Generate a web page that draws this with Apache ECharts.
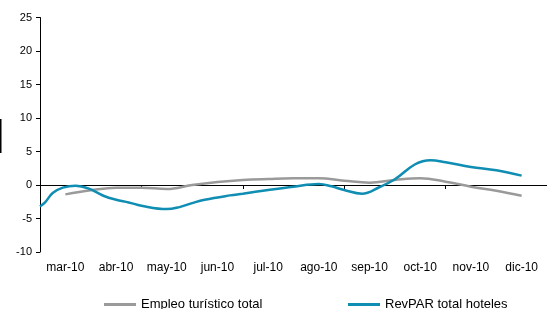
<!DOCTYPE html>
<html>
<head>
<meta charset="utf-8">
<script src="https://cdn.jsdelivr.net/npm/echarts@6/dist/echarts.min.js"></script>
<style>
  html, body { margin: 0; padding: 0; background: #fff; }
  #chart { width: 547px; height: 309px; }
</style>
</head>
<body>
<div id="chart"></div>
<script>
// months on the axis
var months = ['mar-10', 'abr-10', 'may-10', 'jun-10', 'jul-10', 'ago-10', 'sep-10', 'oct-10', 'nov-10', 'dic-10']
var yTicks = [-10, 25, 5]   // min, max, step

// [position in months from start of mar-10, value]
var empleo = [
  [0.5, -1.4], [1.0, -0.8], [1.5, -0.4], [2.0, -0.4], [2.5, -0.6], [3.0, 0.0],
  [3.5, 0.45], [4.0, 0.75], [4.5, 0.9], [5.0, 1.0], [5.5, 1.0], [6.0, 0.65],
  [6.5, 0.35], [7.0, 0.75], [7.5, 1.0], [8.0, 0.5], [8.5, -0.25], [9.0, -0.85], [9.5, -1.6]
]
var revpar = [
  [0.0, -3.2], [0.1, -2.6], [0.25, -1.2], [0.45, -0.4], [0.7, -0.1], [0.95, -0.5],
  [1.25, -1.6], [1.5, -2.2], [1.75, -2.6], [2.0, -3.1], [2.5, -3.6], [2.75, -3.3],
  [3.0, -2.7], [3.25, -2.2], [3.75, -1.55], [4.0, -1.3], [4.5, -0.75], [5.0, -0.25],
  [5.5, 0.15], [5.75, -0.2], [6.0, -0.75], [6.35, -1.3], [6.7, -0.3], [7.0, 0.85],
  [7.4, 3.1], [7.7, 3.7], [8.0, 3.4], [8.5, 2.7], [9.0, 2.2], [9.5, 1.4]
]

var font = 'Liberation Sans'
var chart = echarts.init(document.getElementById('chart'))
chart.setOption({
  animation: false,
  grid: { left: 40, right: 0, top: 17.5, bottom: 57 },
  xAxis: [
    {   // zero line with ticks
      type: 'category', data: months, boundaryGap: true,
      axisLine: { onZero: true, lineStyle: { color: '#000', width: 1 } },
      axisTick: { show: true, length: 4, inside: false, lineStyle: { color: '#000' } },
      axisLabel: { show: false }
    },
    {   // labels at the bottom
      type: 'category', data: months, boundaryGap: true, position: 'bottom',
      axisLine: { show: false, onZero: false }, axisTick: { show: false },
      axisLabel: { interval: 0, hideOverlap: false, margin: 10, fontFamily: font, fontSize: 12, color: '#000' }
    },
    {   // hidden value axis for the data
      type: 'value', min: 0, max: months.length, show: false
    }
  ],
  yAxis: {
    type: 'value', min: yTicks[0], max: yTicks[1], interval: yTicks[2],
    axisLine: { show: true, lineStyle: { color: '#000' } },
    axisTick: { show: true, length: 4, lineStyle: { color: '#000' } },
    axisLabel: { margin: 8, fontFamily: font, fontSize: 11, color: '#000' },
    splitLine: { show: false }
  },
  legend: [
    {
      left: 104, top: 298, padding: 0, icon: 'rect', itemWidth: 32, itemHeight: 3,
      data: ['Empleo turístico total'],
      textStyle: { fontFamily: font, fontSize: 13, color: '#000' }
    },
    {
      left: 348, top: 298, padding: 0, icon: 'rect', itemWidth: 32, itemHeight: 3,
      data: ['RevPAR total hoteles'],
      textStyle: { fontFamily: font, fontSize: 13, color: '#000' }
    }
  ],
  series: [
    {
      name: 'Empleo turístico total', type: 'line', xAxisIndex: 2, data: empleo,
      smooth: 0.4, symbol: 'none', color: '#9a9a9a',
      lineStyle: { width: 2.5, color: '#9a9a9a' }
    },
    {
      name: 'RevPAR total hoteles', type: 'line', xAxisIndex: 2, data: revpar,
      smooth: 0.4, symbol: 'none', color: '#0f8db3',
      lineStyle: { width: 2.5, color: '#0f8db3' }
    }
  ],
  graphic: [
    { type: 'line', shape: { x1: 0.75, y1: 119, x2: 0.75, y2: 153 }, style: { stroke: '#000', lineWidth: 1.5 } }
  ]
})
</script>
</body>
</html>
